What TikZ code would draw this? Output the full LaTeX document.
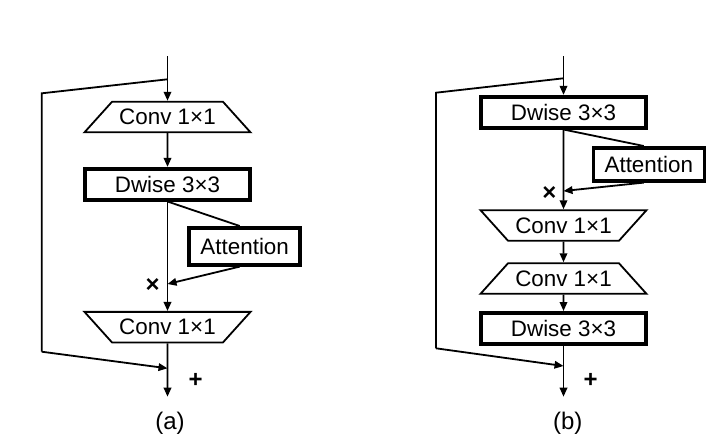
\documentclass[tikz,border=0pt]{standalone}
\usepackage{fontspec}
\setmainfont{Liberation Sans}
\usepackage{tikz}
\usetikzlibrary{arrows.meta,
shapes.geometric,
calc
}
\tikzset{>={Triangle[length=9pt, width=7.5pt]}}

\begin{document}
\begin{tikzpicture}[x=1pt, y=-1pt, line width=1.8pt,
    every node/.style={font=\fontsize{22.4}{26}\selectfont, inner sep=0pt},
    dwbox/.style={draw, line width=3.6pt, minimum width=165pt, minimum height=31pt},
    attbox/.style={draw, line width=3.6pt, minimum width=111pt},
    convup/.style={draw, trapezium, trapezium angle=48, trapezium stretches body,
        inner ysep=7.4pt, minimum width=166pt},
    convdown/.style={convup, shape border rotate=180},
    opsign/.style={font=\fontsize{24}{28}\selectfont\bfseries}]
    \useasboundingbox (0,0) rectangle (714,445);

            %left block
            \coordinate (inA) at (167.5,56);
            \coordinate (splitA) at (167.5,79.3);
            \node[convup] (convA1) at (167.5,117) {Conv 1×1};
            \node[dwbox] (dwA) at (167.5,184.2) {Dwise 3×3};
            \node[attbox, minimum height=37pt] (attA) at (244.7,246.3) {Attention};
            \coordinate (mulA) at (167.5,284);
            \node[convdown] (convA2) at (167.5,327.2) {Conv 1×1};
            \coordinate (skipA1) at (41.7,93.3);
            \coordinate (skipA2) at (41.7,351.7);
            \coordinate (addA) at (167.5,368.3);
            \coordinate (outA) at (167.5,396.7);

            \draw[->] (inA) -- (convA1);
            \draw (splitA) -- (skipA1) -- (skipA2);
            \draw[->] (skipA2) -- (addA);
            \draw[->] (convA1) -- (dwA);
            \draw (dwA.south) -- ([xshift=-5pt]attA.north);
            \draw[->] ([xshift=-5pt]attA.south) -- (mulA);
            \draw[->] (dwA) -- (convA2);
            \draw[->] (convA2) -- (outA);

            \node[opsign] (timesA) at (152.7,285) {×};
            \node[opsign] (plusA) at (195.7,380.7) {+};
            \node[font=\fontsize{24}{28}\selectfont] (capA) at (170,423.3) {(a)};

            %right block
            \coordinate (inB) at (563.5,56);
            \coordinate (splitB) at (563.5,78.3);
            \node[dwbox] (dwB1) at (563.5,112.2) {Dwise 3×3};
            \node[attbox, minimum height=33pt] (attB) at (648.8,164.3) {Attention};
            \coordinate (mulB) at (563.5,191);
            \node[convdown] (convB1) at (563.5,225.5) {Conv 1×1};
            \node[convup] (convB2) at (563.5,278.5) {Conv 1×1};
            \node[dwbox] (dwB2) at (563.5,328.3) {Dwise 3×3};
            \coordinate (skipB1) at (436,92.7);
            \coordinate (skipB2) at (436,348.3);
            \coordinate (addB) at (563.5,366);
            \coordinate (outB) at (563.5,396.7);

            \draw[->] (inB) -- (dwB1);
            \draw (splitB) -- (skipB1) -- (skipB2);
            \draw[->] (skipB2) -- (addB);
            \draw (dwB1.south) -- ([xshift=-5pt]attB.north);
            \draw[->] ([xshift=-5pt]attB.south) -- (mulB);
            \draw[->] (dwB1) -- (convB1);
            \draw[->] (convB1) -- (convB2);
            \draw[->] (convB2) -- (dwB2);
            \draw[->] (dwB2) -- (outB);

            \node[opsign] (timesB) at (549.3,193.3) {×};
            \node[opsign] (plusB) at (590.7,380.7) {+};
            \node[font=\fontsize{24}{28}\selectfont] (capB) at (567.7,423.3) {(b)};

\end{tikzpicture}
\end{document}
